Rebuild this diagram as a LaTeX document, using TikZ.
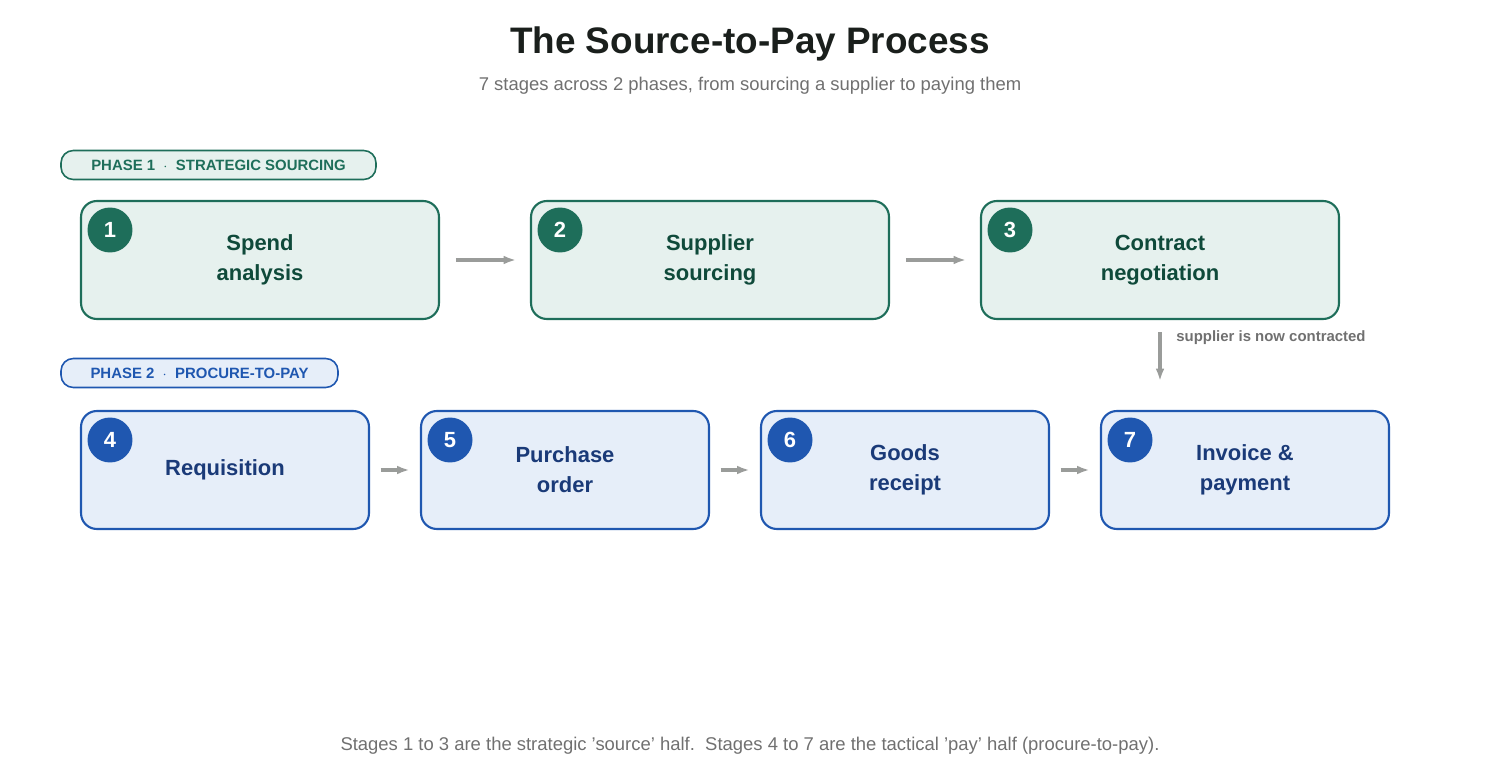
\documentclass[tikz,border=0pt]{standalone}
\usepackage{fontspec}
\setmainfont{Liberation Sans}
\usetikzlibrary{positioning,arrows.meta}
\definecolor{grnline}{HTML}{1E6E5A}
\definecolor{grnfill}{HTML}{E6F1EE}
\definecolor{grntext}{HTML}{0F4A3A}
\definecolor{bluline}{HTML}{1F57B0}
\definecolor{blufill}{HTML}{E6EEF9}
\definecolor{blutext}{HTML}{1A3A78}
\definecolor{arrowgray}{HTML}{9A9C9A}
\definecolor{notegray}{HTML}{707070}
\tikzset{%
	stagebox/.style={draw=#1line, fill=#1fill, line width=1.2pt, rounded corners=9pt, minimum height=2.36cm, text=#1text, font=\fontsize{12.5}{17}\selectfont\bfseries, align=center},
	stagenum/.style={circle, fill=#1line, minimum size=0.9cm, inner sep=0pt, text=white, font=\fontsize{12.5}{14}\selectfont\bfseries},
	phasepill/.style={draw=#1line, fill=#1fill, line width=0.9pt, rounded corners=7pt, minimum height=0.58cm, inner xsep=6pt, text=#1line, font=\fontsize{8.5}{10}\selectfont\bfseries},
	flow/.style={draw=arrowgray, line width=1.8pt, -{Latex[length=7pt,width=5pt]}}
}
\begin{document}
\begin{tikzpicture}[x=0.02cm,y=-0.02cm]
	\useasboundingbox (0,0) rectangle (1500,780);
	% titles
	\node (title) at (750,44) {\fontsize{21}{24}\selectfont\bfseries\color[HTML]{1A1F1C}The Source-to-Pay Process};
	\node (sub) at (750,86) {\fontsize{10.5}{12}\selectfont\color{notegray}7 stages across 2 phases, from sourcing a supplier to paying them};
	% phase 1
	\node[phasepill=grn, minimum width=6.3cm] (ph1) at (218.5,165) {PHASE 1 \ $\cdot$ \ STRATEGIC SOURCING};
	\node[stagebox=grn, minimum width=7.16cm] (s1) at (260,260) {Spend\\analysis};
	\node[stagebox=grn, minimum width=7.16cm] (s2) at (710,260) {Supplier\\sourcing};
	\node[stagebox=grn, minimum width=7.16cm] (s3) at (1160,260) {Contract\\negotiation};
	\foreach \n/\x in {1/110,2/560,3/1010}
		\node[stagenum=grn] (n\n) at (\x,230) {\n};
	% phase 2
	\node[phasepill=blu, minimum width=5.54cm] (ph2) at (199.5,373) {PHASE 2 \ $\cdot$ \ PROCURE-TO-PAY};
	\node[stagebox=blu, minimum width=5.76cm] (s4) at (225,470) {Requisition};
	\node[stagebox=blu, minimum width=5.76cm] (s5) at (565,470) {Purchase\\order};
	\node[stagebox=blu, minimum width=5.76cm] (s6) at (905,470) {Goods\\receipt};
	\node[stagebox=blu, minimum width=5.76cm] (s7) at (1245,470) {Invoice \&\\payment};
	\foreach \n/\x in {4/110,5/450,6/790,7/1130}
		\node[stagenum=blu] (n\n) at (\x,440) {\n};
	% connectors
	\draw[flow, shorten <=9pt, shorten >=8pt] (s1) -- (s2);
	\draw[flow, shorten <=9pt, shorten >=8pt] (s2) -- (s3);
	\draw[flow, shorten <=6pt, shorten >=6pt] (s4) -- (s5);
	\draw[flow, shorten <=6pt, shorten >=6pt] (s5) -- (s6);
	\draw[flow, shorten <=6pt, shorten >=6pt] (s6) -- (s7);
	\coordinate (drop) at (1160,381);
	\draw[flow, shorten <=7pt] (s3) -- (drop);
	\node[anchor=west, inner sep=0pt] (contracted) at (1176,338) {\fontsize{8.5}{10}\selectfont\bfseries\color{notegray}supplier is now contracted};
	% footer
	\node (foot) at (750,746) {\fontsize{10.5}{12}\selectfont\color{notegray}Stages 1 to 3 are the strategic 'source' half.\ \ Stages 4 to 7 are the tactical 'pay' half (procure-to-pay).};
\end{tikzpicture}
\end{document}
